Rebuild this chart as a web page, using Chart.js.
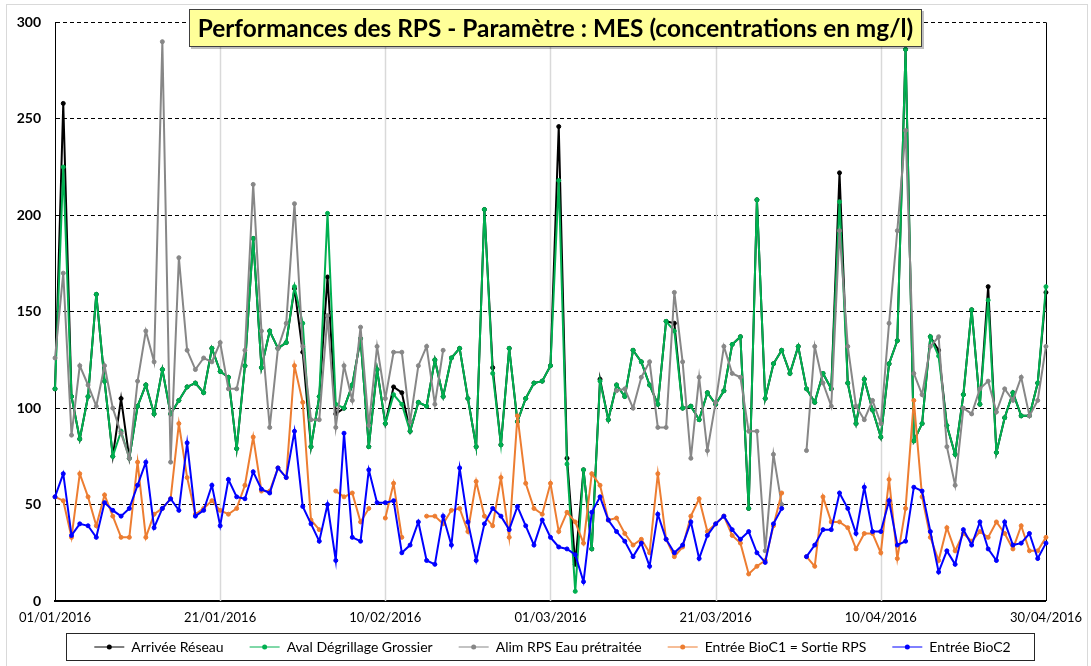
<!DOCTYPE html>
<html><head><meta charset="utf-8">
<script src="https://cdn.jsdelivr.net/npm/chart.js@4.4.0/dist/chart.umd.min.js"></script>
<style>html,body{margin:0;padding:0;background:#fff;}#wrap{position:relative;width:1091px;height:666px;}</style>
</head><body><div id="wrap"><canvas id="c" width="1091" height="666"></canvas></div>
<script>
const chartTitle = 'Performances des RPS - Paramètre : MES (concentrations en mg/l)';
const seriesNames = ['Arrivée Réseau', 'Aval Dégrillage Grossier', 'Alim RPS Eau prétraitée', 'Entrée BioC1 = Sortie RPS', 'Entrée BioC2'];
const tickLabels = ['01/01/2016', '21/01/2016', '10/02/2016', '01/03/2016', '21/03/2016', '10/04/2016', '30/04/2016'];
const yTickStep = 50;
const yMax = 300;

// one category per day, 01/01/2016 .. 30/04/2016
const categories = [];
for (let d = 0; d <= 120; d++) {
  const dt = new Date(Date.UTC(2016, 0, 1 + d));
  const dd = String(dt.getUTCDate()).padStart(2, '0');
  const mm = String(dt.getUTCMonth() + 1).padStart(2, '0');
  categories.push(dd + '/' + mm + '/2016');
}

const _ = null;
const arriveeReseau = [
  110, 258, 106, 84, 106, 159, 114, 75, 105, 74,
  101, 112, 97, 120, 97, 104, 111, 113, 108, 131,
  119, 116, 79, 122, 188, 121, 140, 131, 134, 162,
  129, 80, 106, 168, 97, 100, 112, 136, 80, 120,
  92, 111, 108, 88, 103, 101, 125, 106, 126, 131,
  105, 80, 203, 121, 81, 131, 93, 105, 113, 114,
  122, 246, 74, 19, 68, 27, 115, 94, 112, 106,
  130, 124, 112, 102, 145, 144, 100, 101, 94, 108,
  102, 109, 133, 137, 48, 208, 105, 123, 130, 118,
  132, 110, 103, 118, 110, 222, 113, 92, 115, 99,
  85, 123, 135, 286, 83, 92, 137, 130, 91, 76,
  107, 151, 102, 163, 77, 95, 108, 96, 96, 113, 160
];
const avalDegrillage = [
  110, 225, 106, 84, 106, 159, 114, 75, 88, 74,
  101, 112, 97, 120, 97, 104, 111, 113, 108, 131,
  119, 116, 79, 122, 188, 121, 140, 131, 134, 163,
  144, 80, 106, 201, 102, 100, 112, 136, 80, 120,
  92, 107, 102, 88, 103, 101, 125, 106, 126, 131,
  105, 80, 203, 118, 81, 131, 93, 105, 113, 114,
  122, 218, 71, 5, 68, 27, 114, 94, 112, 106,
  130, 124, 112, 102, 145, 140, 100, 101, 94, 108,
  102, 109, 133, 137, 48, 208, 105, 123, 130, 118,
  132, 110, 103, 118, 110, 207, 113, 92, 115, 99,
  85, 123, 135, 286, 83, 92, 137, 127, 91, 76,
  107, 151, 102, 156, 77, 95, 108, 96, 96, 113, 163
];
const alimRPS = [
  126, 170, 86, 122, 112, 101, 122, 100, 87, 74,
  114, 140, 124, 290, 72, 178, 130, 120, 126, 124,
  134, 110, 110, 130, 216, 140, 90, 131, 144, 206,
  132, 94, 94, 148, 90, 122, 104, 142, 91, 132,
  105, 129, 129, 93, 122, 132, 102, 130, _, _,
  _, _, _, _, _, _, _, _, _, _,
  _, _, _, _, _, _, _, _, 109, 110,
  100, 116, 124, 90, 90, 160, 124, 74, 116, 78,
  103, 132, 118, 116, 88, 88, 26, 76, 50, _,
  _, 78, 132, 113, 101, 192, 132, 101, 94, 104,
  92, 144, 192, 244, 118, 107, 132, 137, 80, 60,
  100, 97, 110, 114, 98, 110, 104, 116, 96, 104, 132
];
const entreeBioC1 = [
  54, 52, 33, 66, 54, 39, 55, 44, 33, 33,
  72, 33, 45, 48, 53, 92, 64, 45, 48, 52,
  47, 45, 48, 60, 85, 57, 57, 69, 64, 122,
  103, 42, 37, _, 57, 54, 56, 41, 48, _,
  43, 61, 33, _, _, 44, 44, 40, 47, 48,
  36, 62, 44, 39, 64, 33, 96, 61, 48, 45,
  61, 36, 46, 41, 30, 66, 60, 42, 43, 35,
  29, 32, 25, 66, 32, 23, 28, 44, 53, 36,
  40, 44, 34, 30, 14, 18, 21, 39, 56, _,
  _, 23, 18, 54, 41, 41, 38, 27, 35, 35,
  25, 63, 22, 48, 104, 54, 33, 21, 38, 26,
  35, 31, 36, 33, 41, 35, 27, 39, 26, 26, 33
];
const entreeBioC2 = [
  54, 66, 34, 40, 39, 33, 51, 47, 44, 48,
  60, 72, 38, 48, 53, 47, 82, 44, 47, 60,
  39, 63, 54, 53, 67, 58, 56, 69, 64, 88,
  49, 40, 31, 50, 21, 87, 33, 31, 68, 51,
  51, 52, 25, 29, 41, 21, 19, 44, 29, 69,
  41, 21, 40, 48, 44, 37, 49, 39, 29, 42,
  33, 28, 27, 24, 10, 46, 54, 42, 36, 31,
  23, 30, 18, 45, 32, 25, 29, 41, 22, 34,
  40, 44, 37, 32, 36, 25, 20, 40, 48, _,
  _, 23, 29, 37, 37, 56, 48, 35, 59, 36,
  36, 52, 29, 31, 59, 57, 36, 15, 26, 19,
  37, 29, 41, 27, 21, 41, 29, 30, 35, 22, 30
];

const colors = ['#000000', '#00B050', '#878787', '#ED7D31', '#0000FF'];
const seriesData = [arriveeReseau, avalDegrillage, alimRPS, entreeBioC1, entreeBioC2];

const datasets = seriesData.map((arr, i) => ({
  label: seriesNames[i],
  data: arr,
  borderColor: colors[i],
  backgroundColor: colors[i],
  borderWidth: 2,
  pointRadius: 2,
  pointBorderWidth: 1,
  pointHoverRadius: 2,
  pointStyle: 'circle',
  tension: 0,
  spanGaps: false,
  fill: false,
  order: 5 - i
}));

const framePlugin = {
  id: 'framePlugin',
  afterLayout(chart) {
    const lg = chart.legend;
    if (lg) {
      lg.top = chart.chartArea.bottom + 13;
      lg.height = 50;
      lg.bottom = lg.top + 50;
      lg.left += 29;
      lg.right += 29;
    }
  },
  beforeDraw(chart) {
    const ctx = chart.ctx;
    ctx.save();
    ctx.fillStyle = '#ffffff';
    ctx.fillRect(0, 0, chart.width, chart.height);
    ctx.strokeStyle = '#d9d9d9';
    ctx.lineWidth = 1;
    ctx.strokeRect(6.5, 4.5, 1081, 670);
    ctx.restore();
  },
  beforeDatasetsDraw(chart) {
    const ctx = chart.ctx;
    const xs = chart.scales.x;
    const area = chart.chartArea;
    ctx.save();
    for (let i = 20; i < categories.length; i += 20) {
      const px = Math.round(xs.getPixelForValue(i)) + 0.5;
      const last = i === categories.length - 1;
      ctx.strokeStyle = last ? '#000' : '#d9d9d9';
      ctx.lineWidth = last ? 1 : 1.5;
      ctx.beginPath();
      ctx.moveTo(px, area.top);
      ctx.lineTo(px, area.bottom);
      ctx.stroke();
    }
    ctx.restore();
  },
  afterDatasetsDraw(chart) {
    const ctx = chart.ctx;
    const x0 = 189, y0 = 9, w = 733, h = 38;
    ctx.save();
    ctx.fillStyle = 'rgba(0,0,0,0.25)';
    ctx.fillRect(x0 + 2, y0 + 2, w, h);
    ctx.fillStyle = '#FFFF99';
    ctx.fillRect(x0, y0, w, h);
    ctx.strokeStyle = '#404040';
    ctx.lineWidth = 1;
    ctx.strokeRect(x0 + 0.5, y0 + 0.5, w - 1, h - 1);
    ctx.fillStyle = '#000';
    ctx.font = 'bold 24.4px Lato, "Open Sans", sans-serif';
    ctx.textAlign = 'center';
    ctx.textBaseline = 'middle';
    ctx.fillText(chartTitle, x0 + w / 2, y0 + h / 2 + 1);
    ctx.restore();
  },
  afterDraw(chart) {
    const ctx = chart.ctx;
    ctx.save();
    ctx.strokeStyle = '#262626';
    ctx.lineWidth = 1;
    ctx.strokeRect(66.5, 633.5, 968, 27);
    const lg = chart.legend;
    if (lg && lg.legendHitBoxes) {
      lg.legendHitBoxes.forEach((hb, i) => {
        const item = lg.legendItems[i];
        const di = item.datasetIndex;
        ctx.fillStyle = colors[di];
        ctx.beginPath();
        ctx.arc(hb.left + 15, hb.top + 7, 2.5, 0, Math.PI * 2);
        ctx.fill();
      });
    }
    ctx.restore();
  }
};

new Chart(document.getElementById('c'), {
  type: 'line',
  data: { labels: categories, datasets },
  plugins: [framePlugin],
  options: {
    responsive: false,
    animation: false,
    devicePixelRatio: 1,
    events: [],
    layout: { padding: { left: 0, right: 44, top: 22, bottom: 0 } },
    plugins: {
      title: { display: false },
      tooltip: { enabled: false },
      legend: {
        position: 'bottom',
        maxHeight: 36,
        labels: {
          sort: (a, b) => a.datasetIndex - b.datasetIndex,
          usePointStyle: true,
          pointStyle: 'line',
          pointStyleWidth: 30,
          padding: 26,
          color: '#000',
          font: { family: 'Lato', size: 14 }
        }
      }
    },
    scales: {
      x: {
        type: 'category',
        offset: false,
        afterFit(scale) { scale.height = 29; },
        grid: { display: false, drawTicks: false },
        border: { display: true, color: '#000', width: 2 },
        ticks: {
          autoSkip: false,
          maxRotation: 0,
          minRotation: 0,
          padding: 9,
          color: '#000',
          font: { family: 'Lato', size: 13 },
          callback: function (v, i) { return i % 20 === 0 ? tickLabels[i / 20] : ''; }
        }
      },
      y: {
        min: 0,
        max: yMax,
        afterFit(scale) { scale.width = 55; },
        grid: { drawTicks: false, color: '#000', lineWidth: 1 },
        border: { display: true, color: '#000', width: 1, dash: [4, 3] },
        ticks: {
          stepSize: yTickStep,
          padding: 14,
          color: '#000',
          font: { family: 'Lato', size: 14, weight: 'bold' }
        }
      }
    }
  }
});
</script>
</body></html>
